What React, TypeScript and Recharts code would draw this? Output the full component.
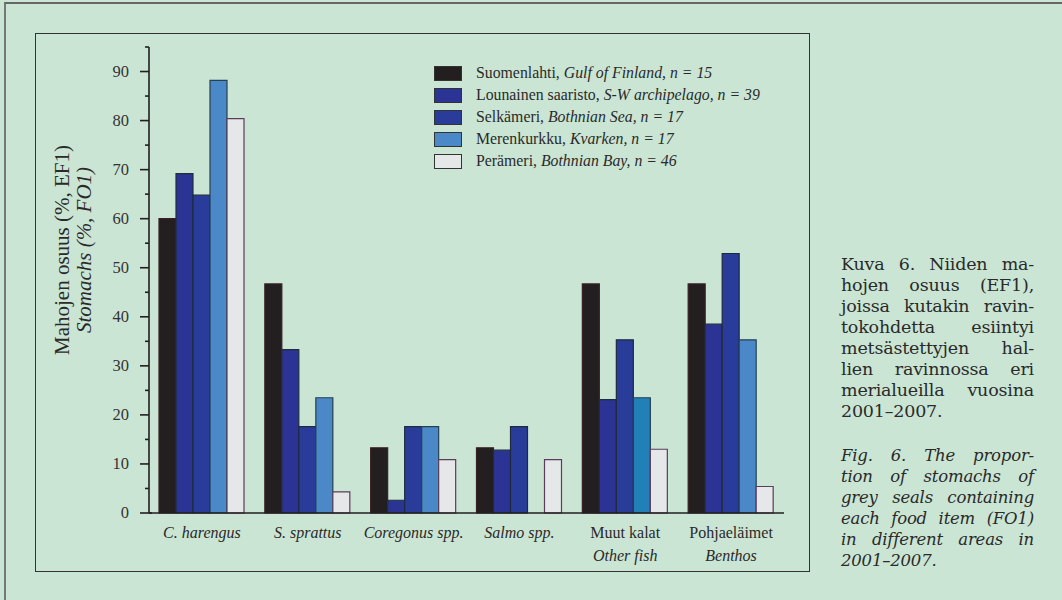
import { Bar, BarChart, Cell, XAxis, YAxis } from "recharts";

const categories = ["C. harengus", "S. sprattus", "Coregonus spp.", "Salmo spp.", "Muut kalat", "Pohjaeläimet"];
const categoryItalic = [true, true, true, true, false, false];
const categorySub = ["", "", "", "", "Other fish", "Benthos"];

const suomenlahti = [60, 46.7, 13.3, 13.3, 46.7, 46.7];
const lounainen = [69.2, 33.3, 2.6, 12.8, 23.1, 38.5];
const selkameri = [64.8, 17.6, 17.6, 17.6, 35.3, 52.9];
const merenkurkku = [88.2, 23.5, 17.6, 0, 23.5, 35.3];
const perameri = [80.4, 4.3, 10.9, 10.9, 13.0, 5.4];

const seriesKeys = ["suomenlahti", "lounainen", "selkameri", "merenkurkku", "perameri"];
const seriesFi = ["Suomenlahti", "Lounainen saaristo", "Selkämeri", "Merenkurkku", "Perämeri"];
const seriesEn = ["Gulf of Finland", "S-W archipelago", "Bothnian Sea", "Kvarken", "Bothnian Bay"];
const seriesN = [15, 39, 17, 17, 46];
const seriesColors = ["#231f20", "#2b3494", "#2a3c9a", "#4a88c8", "#e6e7e9"];
const seriesStrokes = ["#3a1f22", "#1f2f3a", "#1f2a40", "#254050", "#5a3d5c"];
const muutKalatKvarken = "#2280b8";

const yTicks = [0, 5, 10, 15, 20, 25, 30, 35, 40, 45, 50, 55, 60, 65, 70, 75, 80, 85, 90, 95];

const captionFi = [
  "Kuva 6. Niiden ma-",
  "hojen osuus (EF1),",
  "joissa kutakin ravin-",
  "tokohdetta esiintyi",
  "metsästettyjen hal-",
  "lien ravinnossa eri",
  "merialueilla vuosina",
  "2001–2007.",
];
const captionEn = [
  "Fig. 6. The propor-",
  "tion of stomachs of",
  "grey seals containing",
  "each food item (FO1)",
  "in different areas in",
  "2001–2007.",
];

const data = categories.map((name, i) => ({
  name,
  suomenlahti: suomenlahti[i],
  lounainen: lounainen[i],
  selkameri: selkameri[i],
  merenkurkku: merenkurkku[i],
  perameri: perameri[i],
}));

const serif = "'Liberation Serif', 'Times New Roman', serif";
const bg = "#cbe5d4";
const ink = "#231f20";

function YTick(props: any) {
  const { x, y, payload } = props;
  const major = payload.value % 10 === 0;
  return (
    <g>
      <line x1={x - (major ? 9 : 4)} x2={payload.value === 0 ? x + 3 : x} y1={y} y2={y} stroke={ink} strokeWidth={1.6} />
      {major && (
        <text x={x - 20} y={y} dy={5} textAnchor="end" fontFamily={serif} fontSize={16.5} fill="#333">
          {payload.value}
        </text>
      )}
    </g>
  );
}

function XTick(props: any) {
  const { x, y, index } = props;
  return (
    <g>
      <text x={x} y={y + 17} textAnchor="middle" fontFamily={serif} fontSize={16} fill="#2a2a2a" fontStyle={categoryItalic[index] ? "italic" : "normal"}>
        {categories[index]}
      </text>
      {categorySub[index] && (
        <text x={x} y={y + 40} textAnchor="middle" fontFamily={serif} fontSize={16} fill="#2a2a2a" fontStyle="italic">
          {categorySub[index]}
        </text>
      )}
    </g>
  );
}

function YLabel(props: any) {
  const { viewBox } = props;
  const cy = viewBox.y + viewBox.height / 2 - 30;
  const x1 = viewBox.x - 27;
  const x2 = viewBox.x - 5;
  return (
    <g>
      <text x={x1} y={cy} transform={`rotate(-90, ${x1}, ${cy})`} textAnchor="middle" dominantBaseline="central" fontFamily={serif} fontSize={21} fill="#2a2a2a">
        Mahojen osuus (%, EF1)
      </text>
      <text x={x2} y={cy} transform={`rotate(-90, ${x2}, ${cy})`} textAnchor="middle" dominantBaseline="central" fontFamily={serif} fontSize={21} fontStyle="italic" fill="#2a2a2a">
        Stomachs (%, FO1)
      </text>
    </g>
  );
}

function LegendBox() {
  return (
    <div style={{ position: "absolute", left: 434, top: 62, fontFamily: serif, fontSize: 15.8, color: "#2a2a2a" }}>
      {seriesFi.map((fi, i) => (
        <div key={fi} style={{ display: "flex", alignItems: "center", height: 22 }}>
          <span style={{ display: "inline-block", width: 26, height: 13, background: seriesColors[i], border: "1px solid #333", marginRight: 14 }} />
          <span>
            {fi}, <i>{seriesEn[i]}, n = {seriesN[i]}</i>
          </span>
        </div>
      ))}
    </div>
  );
}

function Caption() {
  const line = (t: string, last: boolean) => (
    <div key={t} style={{ textAlign: last ? "left" : "justify", textAlignLast: last ? "left" : "justify", whiteSpace: "nowrap", height: 21 }}>
      {t}
    </div>
  );
  return (
    <div style={{ position: "absolute", left: 841, top: 254, width: 193, fontFamily: "'DejaVu Serif', serif", lineHeight: "21px", color: "#2a2a2a" }}>
      <div style={{ fontSize: 17.5, letterSpacing: -0.2 }}>{captionFi.map((t, i) => line(t, i === captionFi.length - 1))}</div>
      <div style={{ height: 23 }} />
      <div style={{ fontStyle: "italic", fontSize: 16.5, letterSpacing: -0.2 }}>{captionEn.map((t, i) => line(t, i === captionEn.length - 1))}</div>
    </div>
  );
}

export default function App() {
  return (
    <div style={{ position: "absolute", left: 0, top: 0, width: 1062, height: 600, background: bg, overflow: "hidden" }}>
      <div style={{ position: "absolute", left: 4, top: 2, width: 1062, height: 600, borderLeft: "2px solid #777", borderTop: "2px solid #666" }} />
      <div style={{ position: "absolute", left: 35, top: 33, width: 773, height: 537, border: "1.5px solid #333" }} />
      <div style={{ position: "absolute", left: 0, top: 0 }}>
        <BarChart width={1062} height={600} data={data} margin={{ top: 47, right: 278, bottom: 57, left: 89 }} barCategoryGap={10} barGap={0}>
          <XAxis xAxisId="edge" type="number" domain={[0, 1]} ticks={[0, 1]} allowDataOverflow axisLine={false} tickSize={5} tickLine={{ stroke: ink, strokeWidth: 1.6 }} tick={() => <g />} height={0} />
          <XAxis xAxisId="cat" dataKey="name" axisLine={{ stroke: ink, strokeWidth: 1.6 }} tickLine={false} tick={<XTick />} interval={0} height={30} />
          <YAxis
            domain={[0, 95]}
            ticks={yTicks}
            interval={0}
            width={60}
            axisLine={{ stroke: ink, strokeWidth: 1.6 }}
            tickLine={false}
            tickSize={0}
            tickMargin={0}
            tick={<YTick />}
            label={<YLabel />}
          />
          {seriesKeys.map((key, si) => (
            <Bar key={key} xAxisId="cat" dataKey={key} name={seriesFi[si]} fill={seriesColors[si]} stroke={seriesStrokes[si]} strokeWidth={1.2} isAnimationActive={false}>
              {data.map((d, ci) => (
                <Cell key={d.name} fill={si === 3 && ci === 4 ? muutKalatKvarken : seriesColors[si]} />
              ))}
            </Bar>
          ))}
        </BarChart>
      </div>
      <LegendBox />
      <Caption />
    </div>
  );
}
